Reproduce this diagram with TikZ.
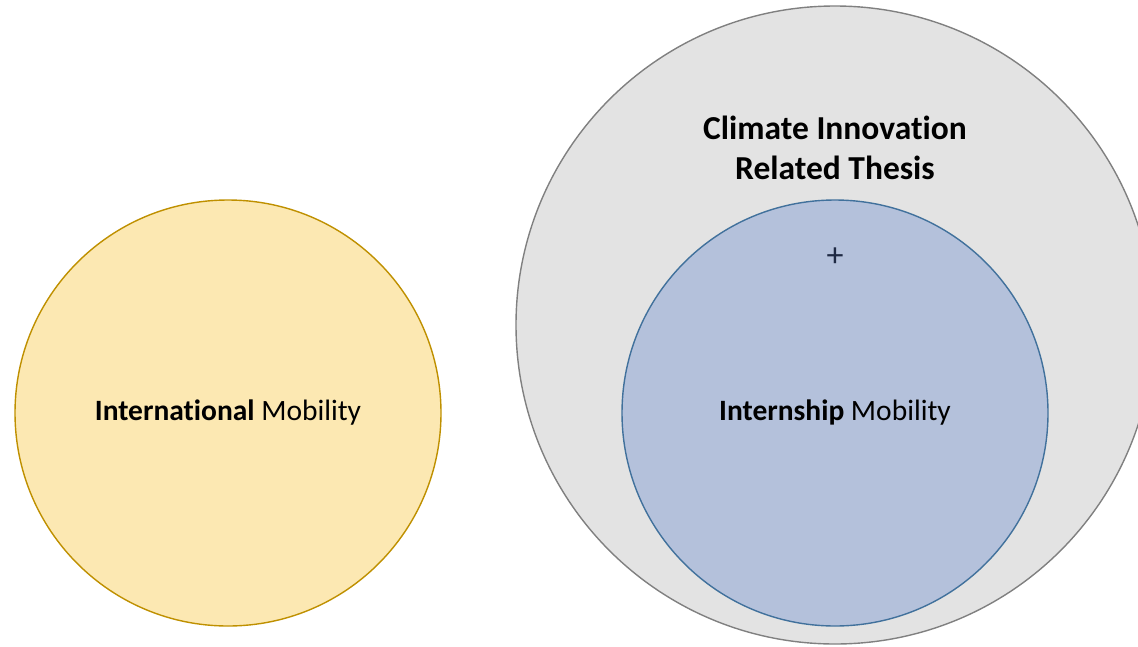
\documentclass[tikz,border=0pt]{standalone}
\usepackage{fontspec}
\setmainfont{Carlito}[Ligatures={NoCommon}]
\definecolor{yfill}{HTML}{FCE8B2}
\definecolor{ydraw}{HTML}{BF9000}
\definecolor{gfill}{HTML}{E3E3E3}
\definecolor{gdraw}{HTML}{808080}
\definecolor{bfill}{HTML}{B4C1DB}
\definecolor{bdraw}{HTML}{41719C}
\definecolor{plusc}{HTML}{1F2A44}
\tikzset{
  disc/.style={circle, inner sep=0pt, line width=1.4pt},
  label30/.style={font=\fontsize{29.5}{34}\selectfont, text=black},
}
\begin{document}
\begin{tikzpicture}[x=1pt,y=-1pt]
\useasboundingbox (0,0) rectangle (1138,646);
\clip (0,0) rectangle (1138,646);
\node[disc, fill=yfill, draw=ydraw, minimum size=426pt] (intl) at (228,413) {};
\node[disc, fill=gfill, draw=gdraw, minimum size=638pt] (thesis) at (835,325) {};
\node[disc, fill=bfill, draw=bdraw, minimum size=426pt] (intern) at (835,413) {};
\node[label30] (intltext) at (intl.center) {\textbf{International} Mobility};
\node[label30] (interntext) at (intern.center) {\textbf{Internship} Mobility};
\node[font=\fontsize{33.5}{40}\selectfont\bfseries, align=center] (thesistext) at (835,148) {Climate Innovation\\Related Thesis};
\node[font=\fontsize{34}{36}\selectfont, text=plusc] (plus) at (835,257) {+};
\end{tikzpicture}
\end{document}
